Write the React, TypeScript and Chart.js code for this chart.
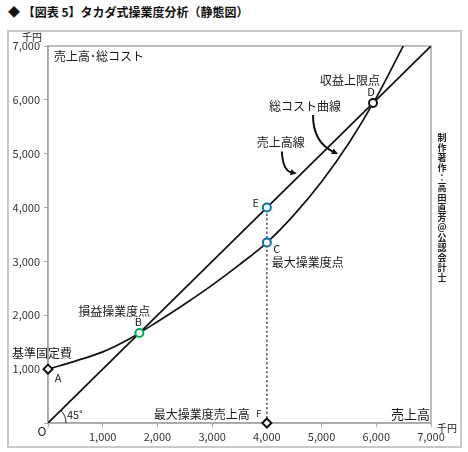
import { useEffect, useRef } from "react";
import { Chart, registerables, type ChartConfiguration, type Plugin } from "chart.js";

Chart.register(...registerables);

const FONT = '"Noto Sans CJK JP", "Noto Sans", sans-serif';

// 千円
const salesX = [0, 7000];
const salesY = [0, 7000];
const costX = [0, 500, 1000, 1500, 2000, 2500, 3000, 3500, 4000, 4500, 5000, 5500, 6000, 6500];
const costY = [1000, 1150, 1320, 1570, 1880, 2210, 2560, 2940, 3350, 3870, 4480, 5200, 6040, 7015];
const maxLineX = [4000, 4000];
const maxLineY = [0, 4000];
const pointNames = ["A", "B", "C", "D", "E", "F"];
const pointX = [0, 1670, 4000, 5940, 4000, 4000];
const pointY = [1000, 1670, 3350, 5940, 4000, 0];

const markerStyle: Record<string, { style: string; color: string; radius: number }> = {
  A: { style: "rectRot", color: "#111111", radius: 4.5 },
  B: { style: "circle", color: "#00b050", radius: 4 },
  C: { style: "circle", color: "#0070c0", radius: 4 },
  D: { style: "circle", color: "#111111", radius: 4 },
  E: { style: "circle", color: "#0070c0", radius: 4 },
  F: { style: "rectRot", color: "#111111", radius: 4.5 },
};

const credit = "制作著作：高田直芳＠公認会計士";

function pt(chart: Chart, name: string) {
  const i = pointNames.indexOf(name);
  return {
    x: chart.scales.x.getPixelForValue(pointX[i]),
    y: chart.scales.y.getPixelForValue(pointY[i]),
  };
}

function text(
  ctx: CanvasRenderingContext2D,
  s: string,
  x: number,
  y: number,
  size = 12,
  align: CanvasTextAlign = "center",
) {
  ctx.font = `${size}px ${FONT}`;
  ctx.textAlign = align;
  ctx.textBaseline = "middle";
  ctx.fillStyle = "#1a1a1a";
  ctx.fillText(s, x, y);
}

function arrow(
  ctx: CanvasRenderingContext2D,
  sx: number,
  sy: number,
  cx: number,
  cy: number,
  ex: number,
  ey: number,
) {
  const ang = Math.atan2(ey - cy, ex - cx);
  const head = 7;
  const bx = ex - Math.cos(ang) * head * 0.8;
  const by = ey - Math.sin(ang) * head * 0.8;
  ctx.strokeStyle = "#111";
  ctx.lineWidth = 2;
  ctx.beginPath();
  ctx.moveTo(sx, sy);
  ctx.quadraticCurveTo(cx, cy, bx, by);
  ctx.stroke();
  ctx.fillStyle = "#111";
  ctx.beginPath();
  ctx.moveTo(ex, ey);
  ctx.lineTo(ex - Math.cos(ang - 0.45) * head, ey - Math.sin(ang - 0.45) * head);
  ctx.lineTo(ex - Math.cos(ang + 0.45) * head, ey - Math.sin(ang + 0.45) * head);
  ctx.closePath();
  ctx.fill();
}

const annotations: Plugin = {
  id: "annotations",
  beforeDatasetsDraw(chart) {
    const { ctx, chartArea: a } = chart;
    ctx.save();
    ctx.strokeStyle = "#a6a6a6";
    ctx.lineWidth = 1.5;
    ctx.strokeRect(a.left, a.top, a.right - a.left, a.bottom - a.top);
    ctx.restore();
  },
  afterDatasetsDraw(chart) {
    const { ctx, chartArea: a } = chart;
    const xs = chart.scales.x;
    const ys = chart.scales.y;
    ctx.save();

    // 45° arc at origin
    const ox = xs.getPixelForValue(0);
    const oy = ys.getPixelForValue(0);
    const ang = Math.atan2(ys.getPixelForValue(1000) - oy, xs.getPixelForValue(1000) - ox);
    ctx.strokeStyle = "#222";
    ctx.lineWidth = 1;
    ctx.beginPath();
    ctx.arc(ox, oy, 18, ang, 0);
    ctx.stroke();
    text(ctx, "45˚", ox + 19, oy - 8, 11, "left");
    text(ctx, "O", ox - 6, oy + 8, 12);

    text(ctx, "売上高･総コスト", a.left + 6, a.top + 10, 12, "left");
    text(ctx, "売上高", a.right - 1, a.bottom - 9, 13, "right");
    text(ctx, "千円", a.left - 16, a.top - 9, 10);
    text(ctx, "千円", a.right + 16, a.bottom + 5, 10);

    const A = pt(chart, "A");
    text(ctx, "基準固定費", A.x - 6, A.y - 16, 12);
    text(ctx, "A", A.x + 10, A.y + 9, 11);

    const B = pt(chart, "B");
    text(ctx, "損益操業度点", B.x - 25, B.y - 22, 12);
    text(ctx, "B", B.x - 1, B.y - 11, 11);

    const E = pt(chart, "E");
    text(ctx, "E", E.x - 11, E.y - 5, 11);

    const C = pt(chart, "C");
    text(ctx, "C", C.x + 10, C.y + 6, 11);
    text(ctx, "最大操業度点", C.x + 5, C.y + 20, 12, "left");

    const D = pt(chart, "D");
    text(ctx, "収益上限点", D.x - 23, D.y - 23, 12);
    text(ctx, "D", D.x - 2, D.y - 11, 11);

    const F = pt(chart, "F");
    text(ctx, "最大操業度売上高", F.x - 17, F.y - 9, 12, "right");
    text(ctx, "F", F.x - 8, F.y - 9, 9);

    // curve labels with arrows
    const cx = D.x - 68;
    const cy = D.y + 3;
    text(ctx, "総コスト曲線", cx, cy, 12);
    arrow(ctx, cx + 8, cy + 9, cx + 8, cy + 36, cx + 33, cy + 48);

    const sx = E.x + 14;
    const sy = E.y - 65;
    text(ctx, "売上高線", sx, sy, 12);
    arrow(ctx, sx + 1, sy + 9, sx + 2, sy + 28, sx + 16, sy + 31);

    // vertical credit
    ctx.font = `bold 9px ${FONT}`;
    ctx.textAlign = "center";
    ctx.textBaseline = "middle";
    ctx.fillStyle = "#222";
    const vx = a.right + 11;
    [...credit].forEach((ch, i) => {
      ctx.fillText(ch, vx, a.top + 92 + i * 10);
    });

    ctx.restore();
  },
};

const tickFont = { family: FONT, size: 11 };

function buildConfig(): ChartConfiguration<"scatter"> {
  return {
    type: "scatter",
    data: {
      datasets: [
        {
          label: "points",
          data: pointNames.map((_, i) => ({ x: pointX[i], y: pointY[i] })),
          pointStyle: pointNames.map((n) => markerStyle[n].style) as any,
          pointRadius: pointNames.map((n) => markerStyle[n].radius),
          pointBorderColor: pointNames.map((n) => markerStyle[n].color),
          pointBackgroundColor: "#ffffff",
          pointBorderWidth: 2,
          showLine: false,
          clip: false as any,
        },
        {
          label: "売上高線",
          data: salesX.map((x, i) => ({ x, y: salesY[i] })),
          showLine: true,
          borderColor: "#111111",
          borderWidth: 1.7,
          pointRadius: 0,
        },
        {
          label: "総コスト曲線",
          data: costX.map((x, i) => ({ x, y: costY[i] })),
          showLine: true,
          borderColor: "#111111",
          borderWidth: 1.7,
          pointRadius: 0,
          cubicInterpolationMode: "monotone",
        },
        {
          label: "最大操業度",
          data: maxLineX.map((x, i) => ({ x, y: maxLineY[i] })),
          showLine: true,
          borderColor: "#333333",
          borderWidth: 1.2,
          borderDash: [2.5, 2],
          pointRadius: 0,
        },
      ],
    },
    options: {
      responsive: false,
      animation: false,
      layout: { padding: { left: 0, top: 46, right: 37, bottom: 0 } },
      plugins: {
        legend: { display: false },
        tooltip: { enabled: false },
      },
      scales: {
        x: {
          type: "linear",
          min: 0,
          max: 7000,
          afterFit(scale) {
            scale.height = 29;
          },
          border: { color: "#a6a6a6", width: 1.5 },
          grid: { drawOnChartArea: false, color: "#a6a6a6", tickLength: 4 },
          ticks: {
            stepSize: 1000,
            autoSkip: false,
            maxRotation: 0,
            padding: 3,
            color: "#333333",
            font: tickFont,
            callback: (v) => (Number(v) === 0 ? "" : Number(v).toLocaleString("en-US")),
          },
        },
        y: {
          type: "linear",
          min: 0,
          max: 7000,
          afterFit(scale) {
            scale.width = 48;
          },
          border: { color: "#a6a6a6", width: 1.5 },
          grid: { drawOnChartArea: false, color: "#a6a6a6", tickLength: 4 },
          ticks: {
            stepSize: 1000,
            autoSkip: false,
            padding: 4,
            color: "#333333",
            font: tickFont,
            callback: (v) => (Number(v) === 0 ? "" : Number(v).toLocaleString("en-US")),
          },
        },
      },
    },
    plugins: [annotations],
  };
}

export default function App() {
  const canvasRef = useRef<HTMLCanvasElement>(null);

  useEffect(() => {
    if (!canvasRef.current) {
      return;
    }
    const chart = new Chart(canvasRef.current, buildConfig());
    return () => {
      chart.destroy();
    };
  }, []);

  return (
    <div style={{ position: "absolute", left: 0, top: 0, width: 468, height: 452, background: "#fff" }}>
      <div
        style={{
          position: "absolute",
          left: 8,
          top: 4,
          font: `bold 12px ${FONT}`,
          lineHeight: "16px",
          color: "#111",
          whiteSpace: "nowrap",
        }}
      >
        ◆ 【図表 5】タカダ式操業度分析（静態図）
      </div>
      <div
        style={{
          position: "absolute",
          left: 7,
          top: 30,
          width: 455,
          height: 418,
          border: "2px solid #c8c8c8",
          boxSizing: "border-box",
        }}
      />
      <canvas
        ref={canvasRef}
        width={468}
        height={452}
        style={{ position: "absolute", left: 0, top: 0 }}
      />
    </div>
  );
}
